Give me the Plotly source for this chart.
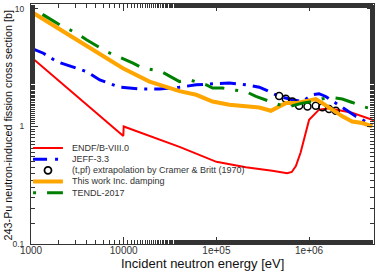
import plotly.graph_objects as go

# ENDF/B-VIII.0
endf_e = [1000, 9900, 10000, 40000, 100000, 208000, 400000, 580000, 650000, 720000, 810000, 940000, 1.0e6, 1.28e6, 1.64e6, 2.9e6, 5e6]
endf_s = [3.9, 0.83, 1.0, 0.67, 0.50, 0.45, 0.42, 0.40, 0.41, 0.46, 0.60, 0.94, 1.14, 1.39, 1.43, 1.31, 1.13]

# JEFF-3.3
jeff_e = [1000, 1360, 1890, 2420, 3970, 5520, 9060, 14900, 24400, 40000, 60500, 91000, 138000, 208000, 290000,
          372000, 475000, 661000, 847000, 1.08e6, 1.28e6, 1.51e6, 1.94e6, 2.48e6, 3.18e6, 4.07e6, 4.8e6]
jeff_s = [4.63, 4.2, 3.57, 3.34, 2.93, 2.49, 2.16, 2.08, 2.08, 2.16, 2.26, 2.31, 2.34, 2.26, 2.16,
          1.98, 1.80, 1.69, 1.63, 1.86, 1.90, 1.80, 1.58, 1.39, 1.22, 1.10, 1.03]

# (t,pf) extrapolation by Cramer & Britt (1970)
cb_e = [4.75e5, 5.6e5, 6.6e5, 7.8e5, 9.6e5, 1.18e6, 1.39e6, 1.64e6, 1.94e6]
cb_s = [1.82, 1.72, 1.63, 1.50, 1.48, 1.50, 1.46, 1.41, 1.36]

# This work Inc. damping
tw_e = [1000, 2420, 5520, 9800, 19000, 40000, 60500, 91000, 138000, 208000, 290000, 387000, 475000,
        561000, 720000, 922000, 1.18e6, 1.39e6, 1.78e6, 2.28e6, 2.92e6, 3.74e6, 4.8e6]
tw_s = [9.5, 6.2, 4.2, 3.13, 2.41, 2.0, 1.86, 1.63, 1.53, 1.48, 1.45, 1.36, 1.46,
        1.58, 1.58, 1.63, 1.71, 1.58, 1.39, 1.22, 1.10, 1.07, 1.0]

# TENDL-2017
tendl_e = [1000, 1360, 2050, 3100, 3970, 6520, 8690, 12600, 16100, 20700, 26500, 36900, 40000, 51300, 60500,
           78000, 91000, 117000, 150000, 208000, 267000, 372000, 475000, 661000, 847000, 1.08e6, 1.39e6,
           1.78e6, 2.28e6, 2.92e6, 3.74e6, 4.8e6]
tendl_s = [10.5, 8.9, 7.31, 6.22, 5.46, 4.34, 3.93, 3.46, 3.13, 3.03, 2.88, 2.49, 2.41, 2.49, 2.41,
           2.26, 2.12, 2.12, 2.05, 1.98, 1.80, 1.63, 1.53, 1.50, 1.58, 1.63, 1.72,
           1.76, 1.71, 1.60, 1.48, 1.41]

x_ticks = [1000, 10000, 100000, 1000000]
x_ticktext = ["1000", "10000", "1e+05", "1e+06"]
y_ticks = [0.1, 1, 10]
y_ticktext = ["0.1", "1", "10"]

x_title = "Incident neutron energy [eV]"
y_title = "243-Pu neutron-induced fission cross section [b]"
series_names = ["ENDF/B-VIII.0", "JEFF-3.3", "(t,pf) extrapolation by Cramer & Britt (1970)",
                "This work Inc. damping", "TENDL-2017"]

RED, BLUE, ORANGE, GREEN = "#ff0000", "#0000ff", "#ffa500", "#008000"
BLUE_DASH = "16px,7px,3px,7px"
GREEN_DASH = "3px,11px,20px,11px"
FONT = "Liberation Sans, Arial, sans-serif"

fig = go.Figure()
fig.add_trace(go.Scatter(x=endf_e, y=endf_s, mode="lines", name=series_names[0],
                         line=dict(color=RED, width=2)))
fig.add_trace(go.Scatter(x=jeff_e, y=jeff_s, mode="lines", name=series_names[1],
                         line=dict(color=BLUE, width=3, dash=BLUE_DASH)))
fig.add_trace(go.Scatter(x=cb_e, y=cb_s, mode="markers", name=series_names[2],
                         marker=dict(symbol="circle-open", color="black", size=7, line=dict(width=1.5, color="black"))))
fig.add_trace(go.Scatter(x=tw_e, y=tw_s, mode="lines", name=series_names[3],
                         line=dict(color=ORANGE, width=4)))
fig.add_trace(go.Scatter(x=tendl_e, y=tendl_s, mode="lines", name=series_names[4],
                         line=dict(color=GREEN, width=3, dash=GREEN_DASH)))

# Compact legend drawn inside the plot area (x/y domain fractions)
L_X0, L_X1, L_TX = 0.006, 0.093, 0.114
L_Y0, L_DY = 0.40, 0.0465
styles = [dict(color=RED, width=2, dash="solid"),
          dict(color=BLUE, width=3, dash="14px,8px,3px,8px"),
          None,
          dict(color=ORANGE, width=4, dash="solid"),
          dict(color=GREEN, width=3, dash=GREEN_DASH)]
for i, name in enumerate(series_names):
    yy = L_Y0 - i * L_DY
    if styles[i] is None:
        fig.add_shape(type="circle", xref="x domain", yref="y domain",
                      xsizemode="pixel", ysizemode="pixel",
                      xanchor=(L_X0 + L_X1) / 2, yanchor=yy,
                      x0=-3.5, x1=3.5, y0=-3.5, y1=3.5,
                      line=dict(color="black", width=1.8))
    else:
        fig.add_shape(type="line", xref="x domain", yref="y domain",
                      x0=L_X0, x1=L_X1, y0=yy, y1=yy, line=styles[i])
    fig.add_annotation(xref="x domain", yref="y domain", x=L_TX, y=yy, text=name,
                       showarrow=False, xanchor="left", yanchor="middle",
                       font=dict(family=FONT, size=9, color="#333333"))

# Axis titles
fig.add_annotation(xref="x domain", yref="y domain", x=0.5, y=-0.081, text=x_title,
                   showarrow=False, xanchor="center", yanchor="middle",
                   font=dict(family=FONT, size=13, color="#111111"))
fig.add_annotation(xref="x domain", yref="y domain", x=-0.067, y=0.494, text=y_title,
                   showarrow=False, xanchor="center", yanchor="middle", textangle=-90,
                   font=dict(family=FONT, size=10.8, color="#111111"))

axis_common = dict(
    type="log", showline=True, linecolor="#333333", linewidth=1, mirror="ticks",
    ticks="inside", ticklen=7, tickcolor="#333333", showgrid=False, zeroline=False,
    automargin=False,
    minor=dict(ticks="inside", ticklen=4, tickcolor="#333333", showgrid=False),
)

fig.update_layout(
    width=377, height=273,
    margin=dict(l=31, r=3, t=4, b=29, autoexpand=False),
    paper_bgcolor="white", plot_bgcolor="white",
    font=dict(family=FONT, color="#222222"),
    xaxis=dict(axis_common, range=[3, 6.7], tickvals=x_ticks, ticktext=x_ticktext,
               ticklabelstandoff=-3,
               tickfont=dict(family=FONT, size=10, color="#333333")),
    yaxis=dict(axis_common, range=[-1, 1.042], tickvals=y_ticks, ticktext=y_ticktext,
               ticklabelstandoff=4,
               tickfont=dict(family=FONT, size=8.5, color="#333333")),
    showlegend=False,
)

fig.write_html("out.html", config={"displayModeBar": False},
               post_script="document.body.style.margin='0px';document.body.style.overflow='hidden';")
